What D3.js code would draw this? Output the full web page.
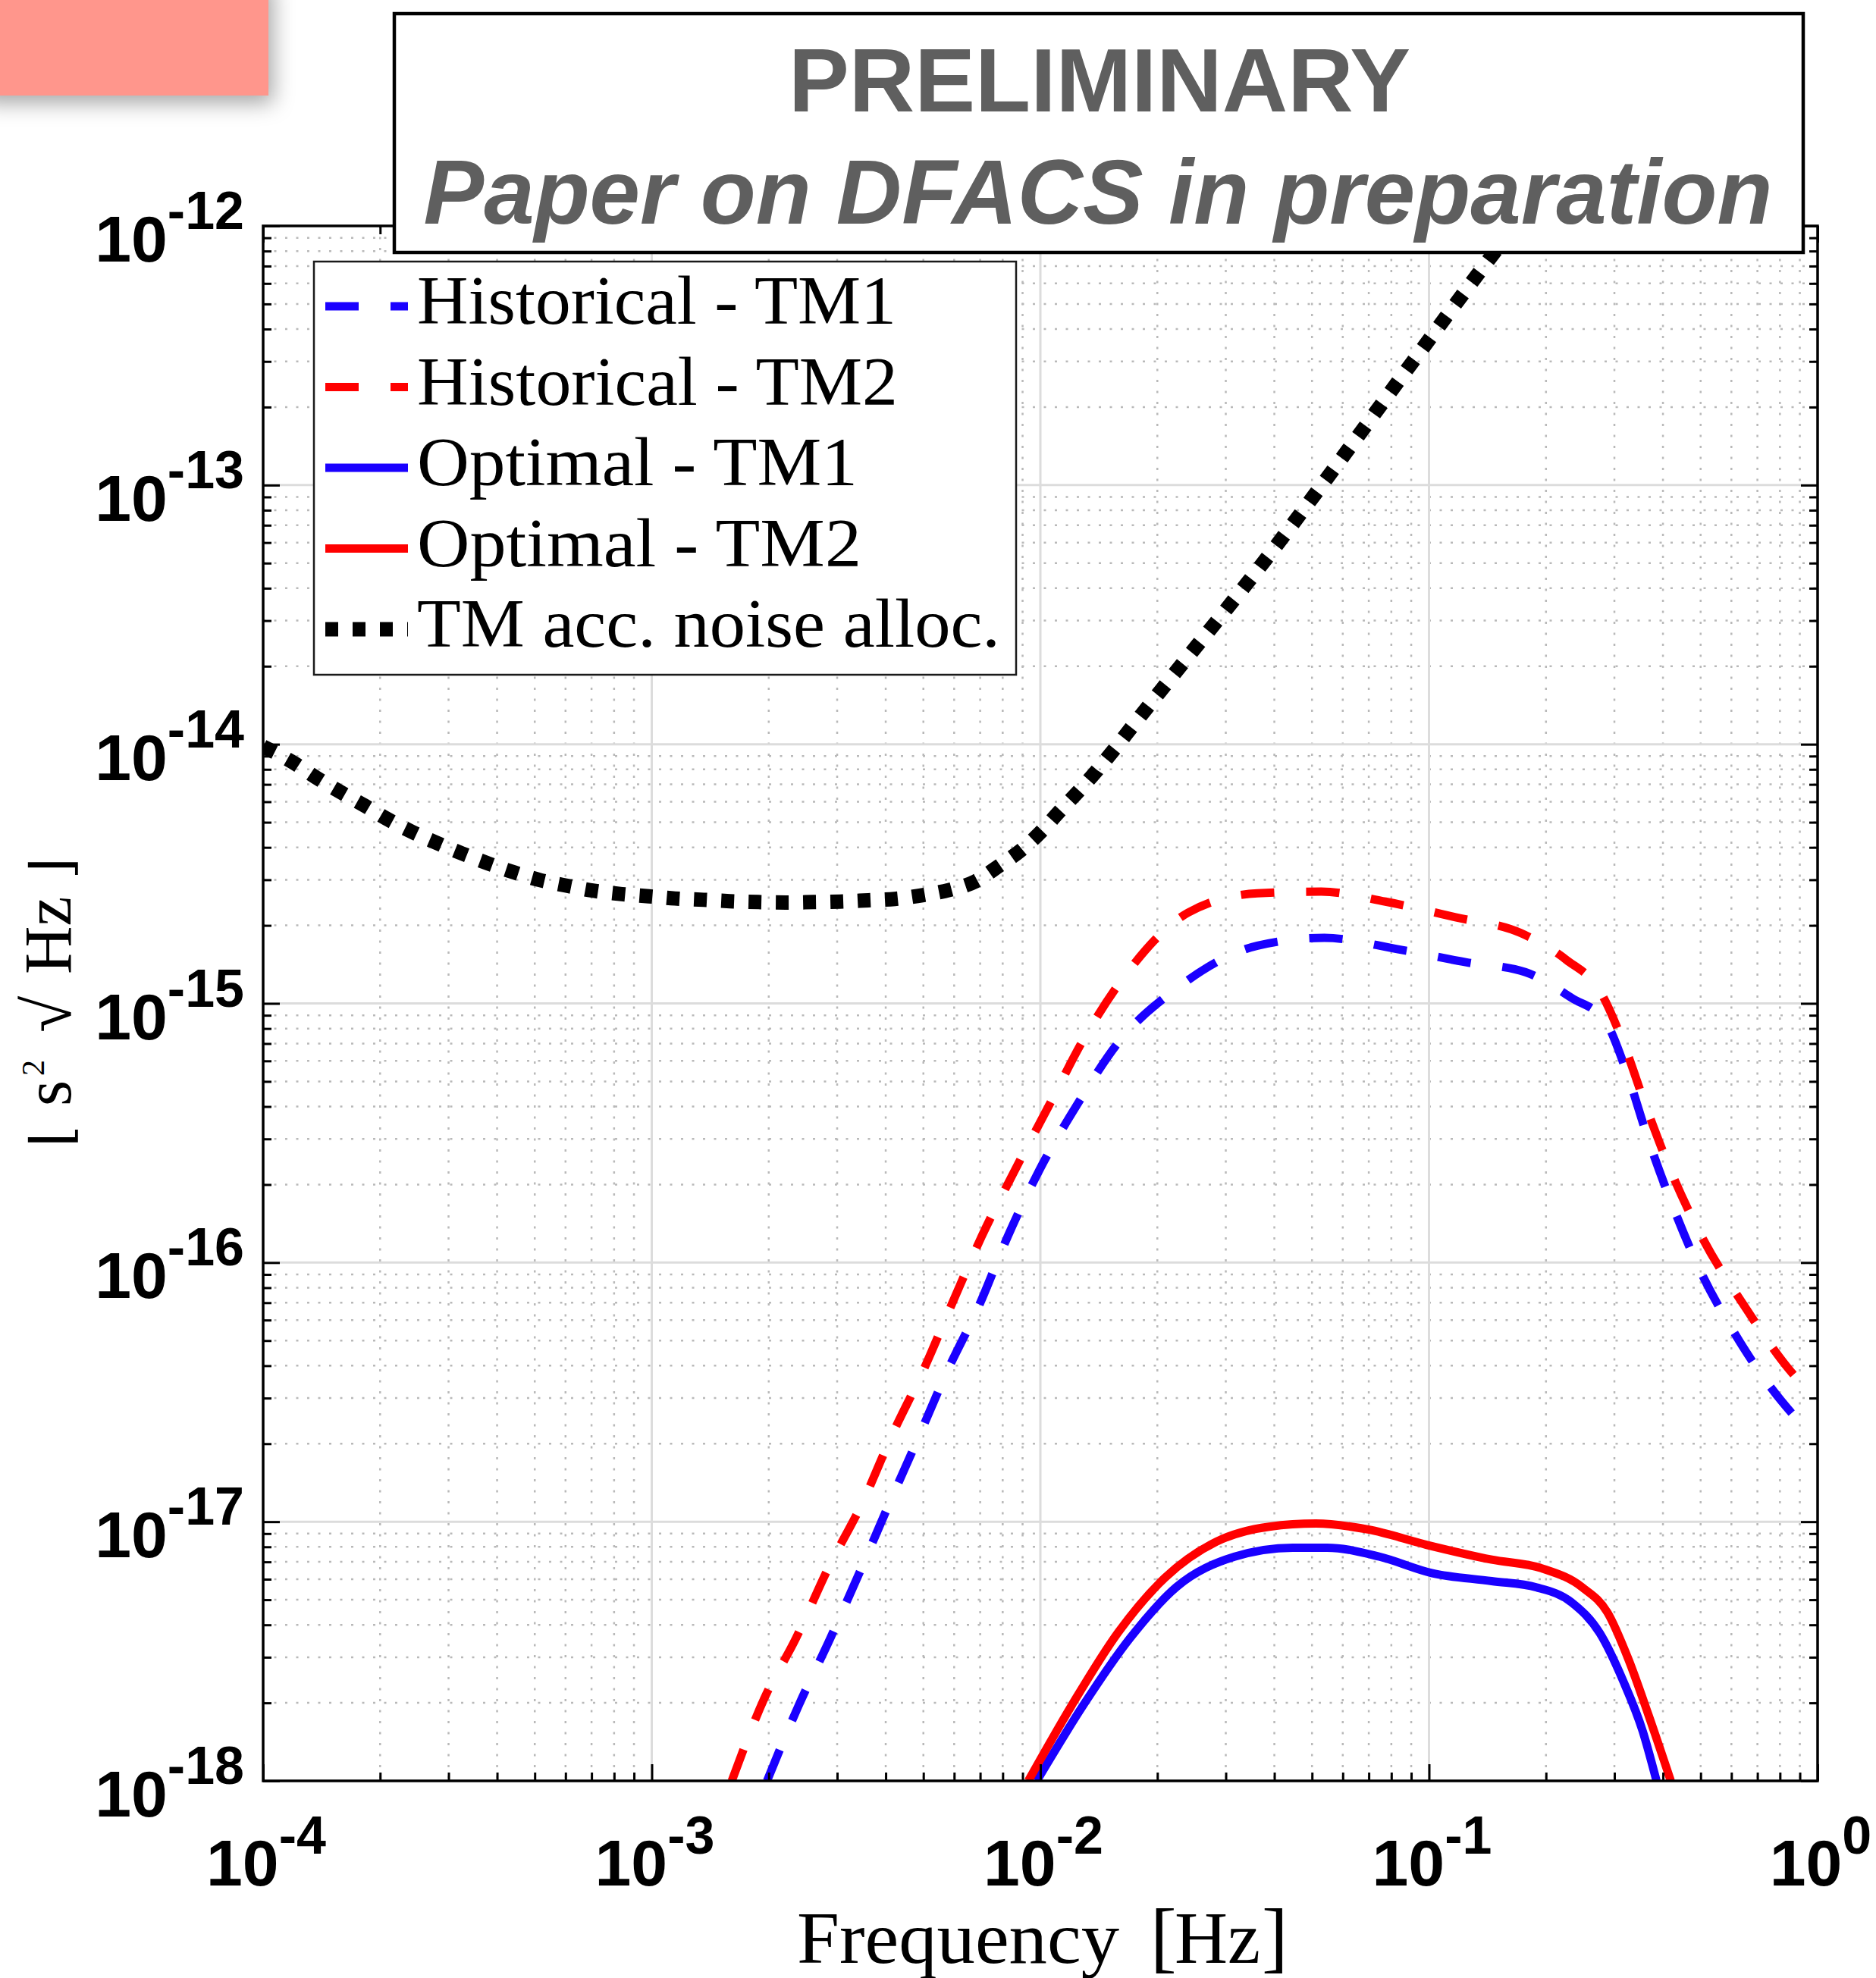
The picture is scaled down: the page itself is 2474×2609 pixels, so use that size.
<!DOCTYPE html>
<html>
<head>
<meta charset="utf-8">
<script src="https://cdn.jsdelivr.net/npm/d3@7"></script>
<style>
  html, body { margin: 0; padding: 0; background: #ffffff; }
  svg { display: block; }
</style>
</head>
<body>
<svg id="chart" width="2474" height="2609"></svg>
<script>
// ---- data ---------------------------------------------------------------
// decade exponents of the tick labels
const xTickExponents = [-4, -3, -2, -1, 0];
const yTickExponents = [-18, -17, -16, -15, -14, -13, -12];
const minorMultipliers = [2, 3, 4, 5, 6, 7, 8, 9];

const seriesLabels = [
  "Historical - TM1",
  "Historical - TM2",
  "Optimal - TM1",
  "Optimal - TM2",
  "TM acc. noise alloc."
];

// [frequency (Hz), amplitude spectral density]
const historicalTM1 = [
  [1.98e-3, 1.0e-18], [2.39e-3, 1.96e-18], [2.88e-3, 3.55e-18], [3.43e-3, 6.40e-18],
  [4.07e-3, 1.16e-17], [4.84e-3, 2.09e-17], [5.74e-3, 3.77e-17], [6.95e-3, 6.81e-17],
  [8.24e-3, 1.26e-16], [9.95e-3, 2.28e-16], [1.25e-2, 4.12e-16], [1.585e-2, 7.05e-16],
  [2.24e-2, 1.14e-15], [3.62e-2, 1.67e-15], [5.38e-2, 1.79e-15], [8.28e-2, 1.62e-15],
  [0.125, 1.44e-15], [0.177, 1.32e-15], [0.233, 1.05e-15], [0.284, 8.55e-16],
  [0.322, 5.47e-16], [0.366, 3.01e-16], [0.422, 1.68e-16], [0.498, 9.35e-17],
  [0.614, 5.28e-17], [0.809, 2.91e-17], [0.885, 2.49e-17]
];

const historicalTM2 = [
  [1.607e-3, 1.0e-18], [1.945e-3, 2.07e-18], [2.35e-3, 3.55e-18], [2.84e-3, 6.58e-18],
  [3.49e-3, 1.19e-17], [4.14e-3, 2.14e-17], [5.01e-3, 3.87e-17], [5.94e-3, 7.0e-17],
  [7.06e-3, 1.26e-16], [8.53e-3, 2.22e-16], [1.05e-2, 4.01e-16], [1.29e-2, 7.24e-16],
  [1.67e-2, 1.31e-15], [2.40e-2, 2.24e-15], [3.62e-2, 2.66e-15], [5.28e-2, 2.70e-15],
  [7.73e-2, 2.47e-15], [0.117, 2.15e-15], [0.172, 1.87e-15], [0.226, 1.47e-15],
  [0.275, 1.12e-15], [0.315, 7.16e-16], [0.363, 3.94e-16], [0.422, 2.20e-16],
  [0.509, 1.22e-16], [0.643, 6.92e-17], [0.847, 3.85e-17], [0.927, 3.30e-17]
];

const optimalTM1 = [
  [9.79e-3, 1.0e-18], [1.29e-2, 1.96e-18], [1.70e-2, 3.55e-18], [2.24e-2, 5.60e-18],
  [3.16e-2, 7.33e-18], [4.46e-2, 7.94e-18], [5.47e-2, 7.94e-18], [7.46e-2, 7.33e-18],
  [0.1016, 6.34e-18], [0.145, 5.90e-18], [0.189, 5.58e-18], [0.233, 4.88e-18],
  [0.275, 3.72e-18], [0.316, 2.43e-18], [0.355, 1.55e-18], [0.385, 1.0e-18]
];

const optimalTM2 = [
  [9.31e-3, 1.0e-18], [1.205e-2, 1.96e-18], [1.585e-2, 3.74e-18], [2.09e-2, 6.07e-18],
  [2.84e-2, 8.38e-18], [3.88e-2, 9.57e-18], [5.12e-2, 9.84e-18], [6.97e-2, 9.33e-18],
  [9.84e-2, 8.15e-18], [0.145, 7.14e-18], [0.195, 6.61e-18], [0.248, 5.58e-18],
  [0.288, 4.46e-18], [0.325, 2.98e-18], [0.366, 1.82e-18], [0.419, 1.0e-18]
];

const accNoiseAllocation = [
  [1.0e-4, 9.8e-15], [1.194e-4, 8.51e-15], [1.371e-4, 7.43e-15], [1.570e-4, 6.58e-15],
  [1.820e-4, 5.81e-15], [2.080e-4, 5.16e-15], [2.410e-4, 4.60e-15], [2.81e-4, 4.15e-15],
  [3.25e-4, 3.79e-15], [3.79e-4, 3.47e-15], [4.43e-4, 3.20e-15], [5.16e-4, 2.99e-15],
  [6.08e-4, 2.84e-15], [7.10e-4, 2.72e-15], [8.38e-4, 2.64e-15], [9.84e-4, 2.59e-15],
  [1.148e-3, 2.54e-15], [1.361e-3, 2.51e-15], [1.589e-3, 2.48e-15], [1.884e-3, 2.46e-15],
  [2.213e-3, 2.45e-15], [2.61e-3, 2.46e-15], [3.05e-3, 2.47e-15], [3.61e-3, 2.50e-15],
  [4.22e-3, 2.53e-15], [5.00e-3, 2.62e-15], [5.83e-3, 2.74e-15], [6.81e-3, 2.96e-15],
  [7.82e-3, 3.39e-15], [8.95e-3, 3.92e-15], [1.009e-2, 4.63e-15], [1.119e-2, 5.50e-15],
  [1.253e-2, 6.58e-15], [1.400e-2, 7.94e-15], [1.549e-2, 9.55e-15], [1.718e-2, 1.164e-14],
  [4.24e-2, 6.4e-14], [5.30e-2, 1.0e-13], [9.33e-2, 3.16e-13], [0.138, 6.95e-13],
  [0.166, 1.0e-12]
];

// ---- layout -------------------------------------------------------------
const W = 2474, H = 2609;
const plot = { left: 347, right: 2397, top: 298, bottom: 2349 };
const BLUE = "#1a00ff", RED = "#ff0000";
const SANS = "'Liberation Sans', Arial, Helvetica, sans-serif";
const SERIF = "'Liberation Serif', 'Times New Roman', serif";

const svg = d3.select("#chart");

const defs = svg.append("defs");
defs.append("clipPath").attr("id", "plotClip")
  .append("rect")
  .attr("x", plot.left).attr("y", plot.top)
  .attr("width", plot.right - plot.left).attr("height", plot.bottom - plot.top);
defs.append("filter").attr("id", "softShadow")
  .attr("x", "-50%").attr("y", "-50%").attr("width", "200%").attr("height", "200%")
  .append("feDropShadow")
  .attr("dx", 6).attr("dy", 10).attr("stdDeviation", 14)
  .attr("flood-color", "#000").attr("flood-opacity", 0.35);

svg.append("rect").attr("width", W).attr("height", H).attr("fill", "#fff");

const x = d3.scaleLog().domain([1e-4, 1]).range([plot.left, plot.right]);
const y = d3.scaleLog().domain([1e-18, 1e-12]).range([plot.bottom, plot.top]);

const xMajor = xTickExponents.map(e => Math.pow(10, e));
const yMajor = yTickExponents.map(e => Math.pow(10, e));
const xMinor = xTickExponents.slice(0, -1)
  .flatMap(e => minorMultipliers.map(m => m * Math.pow(10, e)));
const yMinor = yTickExponents.slice(0, -1)
  .flatMap(e => minorMultipliers.map(m => m * Math.pow(10, e)));

// ---- grid ---------------------------------------------------------------
const grid = svg.append("g");
grid.selectAll(".gx-minor").data(xMinor).join("line")
  .attr("x1", d => x(d)).attr("x2", d => x(d))
  .attr("y1", plot.top).attr("y2", plot.bottom)
  .attr("stroke", "#b9b9b9").attr("stroke-width", 2.5).attr("stroke-dasharray", "3,11.5");
grid.selectAll(".gy-minor").data(yMinor).join("line")
  .attr("y1", d => y(d)).attr("y2", d => y(d))
  .attr("x1", plot.left).attr("x2", plot.right)
  .attr("stroke", "#b9b9b9").attr("stroke-width", 2.5).attr("stroke-dasharray", "3,11.5");
grid.selectAll(".gx-major").data(xMajor.slice(1, -1)).join("line")
  .attr("x1", d => x(d)).attr("x2", d => x(d))
  .attr("y1", plot.top).attr("y2", plot.bottom)
  .attr("stroke", "#dcdcdc").attr("stroke-width", 3);
grid.selectAll(".gy-major").data(yMajor.slice(1, -1)).join("line")
  .attr("y1", d => y(d)).attr("y2", d => y(d))
  .attr("x1", plot.left).attr("x2", plot.right)
  .attr("stroke", "#dcdcdc").attr("stroke-width", 3);

// ---- curves -------------------------------------------------------------
const line = d3.line()
  .x(d => x(d[0])).y(d => y(d[1]))
  .curve(d3.curveMonotoneX);

const series = [
  { data: historicalTM1, color: BLUE, width: 11, dash: "44,42" },
  { data: historicalTM2, color: RED, width: 11, dash: "44,42" },
  { data: optimalTM1, color: BLUE, width: 11, dash: null },
  { data: optimalTM2, color: RED, width: 11, dash: null },
  { data: accNoiseAllocation, color: "#000", width: 19, dash: "17,19" }
];

const curves = svg.append("g").attr("clip-path", "url(#plotClip)");
series.forEach(s => {
  curves.append("path")
    .datum(s.data)
    .attr("d", line)
    .attr("fill", "none")
    .attr("stroke", s.color)
    .attr("stroke-width", s.width)
    .attr("stroke-linecap", "butt")
    .attr("stroke-linejoin", "round")
    .attr("stroke-dasharray", s.dash);
});

// ---- axes (inward ticks on all four sides) ------------------------------
function styleAxis(g) {
  g.select(".domain").remove();
  g.selectAll(".tick line").attr("stroke", "#000").attr("stroke-width", 3);
  g.selectAll(".tick text").remove();
}
const axes = svg.append("g");
const axisDefs = [
  { gen: d3.axisBottom, scale: x, pos: `translate(0,${plot.bottom})`, major: xMajor, minor: xMinor },
  { gen: d3.axisTop, scale: x, pos: `translate(0,${plot.top})`, major: xMajor, minor: xMinor },
  { gen: d3.axisLeft, scale: y, pos: `translate(${plot.left},0)`, major: yMajor, minor: yMinor },
  { gen: d3.axisRight, scale: y, pos: `translate(${plot.right},0)`, major: yMajor, minor: yMinor }
];
axisDefs.forEach(a => {
  axes.append("g").attr("transform", a.pos)
    .call(a.gen(a.scale).tickValues(a.major).tickSize(-22).tickSizeOuter(0).tickFormat(""))
    .call(styleAxis);
  axes.append("g").attr("transform", a.pos)
    .call(a.gen(a.scale).tickValues(a.minor).tickSize(-11).tickSizeOuter(0).tickFormat(""))
    .call(styleAxis);
});
axes.append("rect")
  .attr("x", plot.left).attr("y", plot.top)
  .attr("width", plot.right - plot.left).attr("height", plot.bottom - plot.top)
  .attr("fill", "none").attr("stroke", "#000").attr("stroke-width", 3.5);

// ---- tick labels --------------------------------------------------------
yTickExponents.forEach(e => {
  const t = svg.append("text")
    .attr("x", plot.left - 25).attr("y", y(Math.pow(10, e)) + 47)
    .attr("text-anchor", "end")
    .attr("font-family", SANS).attr("font-weight", "bold").attr("fill", "#000");
  t.append("tspan").attr("font-size", 86).text("10");
  t.append("tspan").attr("font-size", 70).attr("dy", -43).text(String(e));
});
xTickExponents.forEach(e => {
  const t = svg.append("text")
    .attr("x", x(Math.pow(10, e)) + 4).attr("y", plot.bottom + 138)
    .attr("text-anchor", "middle")
    .attr("font-family", SANS).attr("font-weight", "bold").attr("fill", "#000");
  t.append("tspan").attr("font-size", 86).text("10");
  t.append("tspan").attr("font-size", 70).attr("dy", -42).text(String(e));
});

// ---- axis titles --------------------------------------------------------
const xTitle = svg.append("text")
  .attr("y", 2589).attr("font-family", SERIF).attr("font-size", 97).attr("fill", "#000");
xTitle.append("tspan").attr("x", 1051).attr("textLength", 425)
  .attr("lengthAdjust", "spacingAndGlyphs").text("Frequency");
xTitle.append("tspan").attr("x", 1517).attr("font-size", 104).text("[");
xTitle.append("tspan").attr("x", 1549).text("Hz");
xTitle.append("tspan").attr("x", 1664).attr("font-size", 104).text("]");

const yTitle = svg.append("text")
  .attr("transform", "translate(93,1513) rotate(-90)")
  .attr("font-family", SERIF).attr("font-size", 88).attr("fill", "#000");
yTitle.append("tspan").attr("x", 0).attr("font-family", "'DejaVu Serif', serif")
  .attr("font-size", 74).text("\u230A");
yTitle.append("tspan").attr("x", 54).text("s");
yTitle.append("tspan").attr("x", 94).attr("dy", -35).attr("font-size", 42).text("2");
yTitle.append("tspan").attr("x", 151).attr("dy", 35).text("\u221A");
yTitle.append("tspan").attr("x", 228).text("Hz");
yTitle.append("tspan").attr("x", 353).attr("font-family", "'DejaVu Serif', serif")
  .attr("font-size", 74).text("\u230B");

// ---- legend -------------------------------------------------------------
const legendBox = { x: 414, y: 345, w: 926, h: 545, firstRow: 59, rowStep: 106.5 };
const legendTextWidths = [632, 634, 581, 586, 769];
const legend = svg.append("g");
legend.append("rect")
  .attr("x", legendBox.x).attr("y", legendBox.y)
  .attr("width", legendBox.w).attr("height", legendBox.h)
  .attr("fill", "#fff").attr("stroke", "#1a1a1a").attr("stroke-width", 2.5);
series.forEach((s, i) => {
  const cy = legendBox.y + legendBox.firstRow + i * legendBox.rowStep;
  legend.append("line")
    .attr("x1", 429).attr("x2", 538).attr("y1", cy).attr("y2", cy)
    .attr("stroke", s.color).attr("stroke-width", i === 4 ? 19 : 11)
    .attr("stroke-dasharray", s.dash);
  legend.append("text")
    .attr("x", 550).attr("y", cy + 23)
    .attr("font-family", SERIF).attr("font-size", 90).attr("fill", "#000")
    .attr("textLength", legendTextWidths[i]).attr("lengthAdjust", "spacingAndGlyphs")
    .text(seriesLabels[i]);
});

// ---- notice box ---------------------------------------------------------
const notice = svg.append("g");
notice.append("rect")
  .attr("x", 520).attr("y", 18).attr("width", 1858).attr("height", 315)
  .attr("fill", "#fff").attr("stroke", "#000").attr("stroke-width", 4.5);
notice.append("text")
  .attr("x", 1450).attr("y", 147).attr("text-anchor", "middle")
  .attr("font-family", SANS).attr("font-weight", "bold").attr("font-size", 119)
  .attr("fill", "#5f5f5f").attr("textLength", 820).attr("lengthAdjust", "spacingAndGlyphs")
  .text("PRELIMINARY");
notice.append("text")
  .attr("x", 1448).attr("y", 295).attr("text-anchor", "middle")
  .attr("font-family", SANS).attr("font-weight", "bold").attr("font-style", "italic")
  .attr("font-size", 121).attr("fill", "#5f5f5f")
  .attr("textLength", 1779).attr("lengthAdjust", "spacingAndGlyphs")
  .text("Paper on DFACS in preparation");

// ---- corner tab ---------------------------------------------------------
svg.append("rect")
  .attr("x", -30).attr("y", -30).attr("width", 384).attr("height", 156)
  .attr("fill", "#ff968c").attr("filter", "url(#softShadow)");
</script>
</body>
</html>
